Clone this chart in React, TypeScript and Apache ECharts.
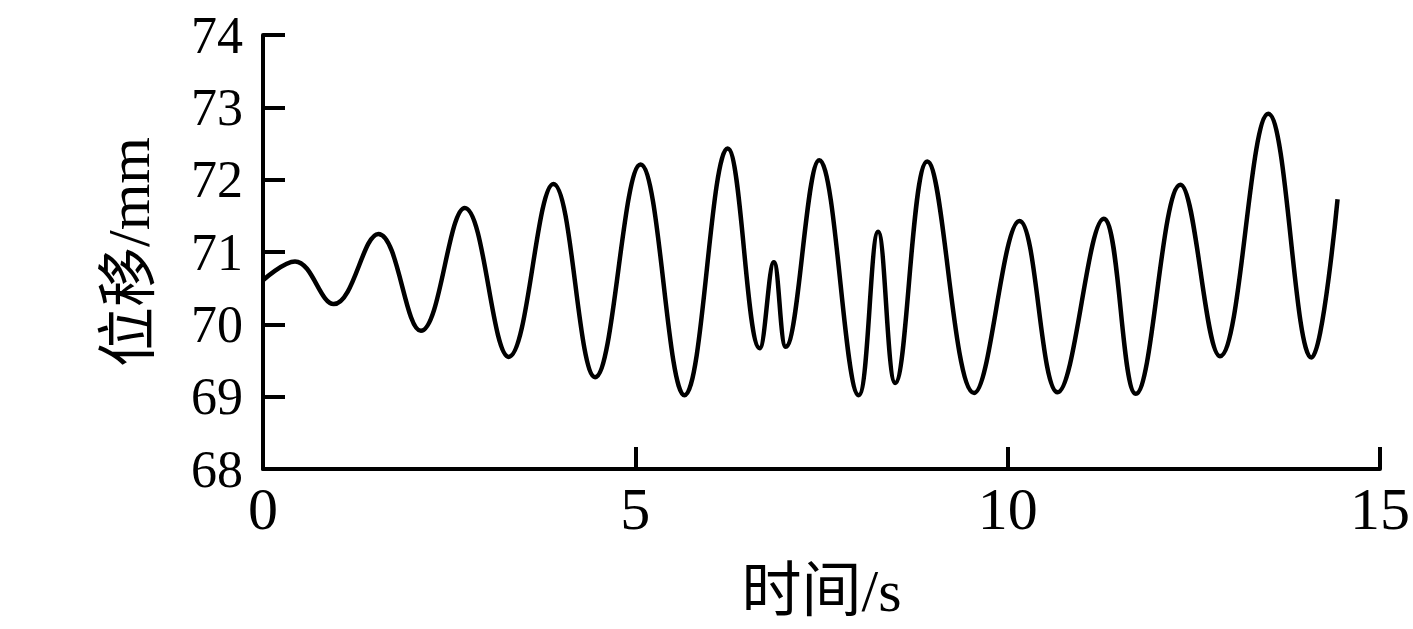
import React, { useEffect, useRef } from "react";
import * as echarts from "echarts";

// peaks and troughs (time in s, displacement in mm)
const timeS = [
  0, 0.43, 0.95, 1.55, 2.12, 2.71, 3.3, 3.9, 4.46, 5.07, 5.66, 6.24, 6.67, 6.86, 7.02, 7.47, 8.0,
  8.26, 8.49, 8.92, 9.55, 10.16, 10.67, 11.29, 11.72, 12.32, 12.85, 13.5, 14.08, 14.43,
];
const displacementMm = [
  70.61, 70.87, 70.28, 71.25, 69.91, 71.61, 69.55, 71.94, 69.27, 72.21, 69.02, 72.43, 69.67, 70.86,
  69.69, 72.27, 69.02, 71.28, 69.19, 72.25, 69.05, 71.43, 69.06, 71.46, 69.04, 71.93, 69.56, 72.91,
  69.54, 71.73,
];
const xTicks = { min: 0, max: 15, interval: 5 };
const yTicks = { min: 68, max: 74, interval: 1 };
const xName = "时间/s";
const yName = "位移/mm";

const FONT = '"Liberation Serif", "Times New Roman", "Noto Sans CJK SC", serif';

export default function App() {
  const ref = useRef<HTMLDivElement>(null);
  useEffect(() => {
    if (!ref.current) return;
    const chart = echarts.init(ref.current, undefined, { renderer: "svg" });
    const points = timeS.map((t, i) => [t, displacementMm[i]]);
    chart.setOption({
      animation: false,
      backgroundColor: "#ffffff",
      grid: { left: 263, right: 32, top: 35, bottom: 160, containLabel: false },
      xAxis: {
        type: "value",
        min: xTicks.min,
        max: xTicks.max,
        interval: xTicks.interval,
        name: xName,
        nameLocation: "middle",
        nameGap: 92,
        nameTextStyle: { fontFamily: FONT, fontSize: 60, color: "#000" },
        axisLine: { show: true, lineStyle: { color: "#000", width: 4 } },
        axisTick: { show: true, inside: true, length: 22, lineStyle: { color: "#000", width: 4 } },
        axisLabel: { margin: 10, fontFamily: FONT, fontSize: 60, color: "#000" },
        splitLine: { show: false },
      },
      yAxis: {
        type: "value",
        min: yTicks.min,
        max: yTicks.max,
        interval: yTicks.interval,
        name: yName,
        nameLocation: "middle",
        nameGap: 104,
        nameTextStyle: { fontFamily: FONT, fontSize: 60, color: "#000" },
        axisLine: { show: true, lineStyle: { color: "#000", width: 4 } },
        axisTick: { show: true, inside: true, length: 22, lineStyle: { color: "#000", width: 4 } },
        axisLabel: { margin: 20, fontFamily: FONT, fontSize: 52, color: "#000" },
        splitLine: { show: false },
      },
      series: [
        {
          type: "line",
          data: points,
          smooth: 0.4,
          symbol: "none",
          lineStyle: { color: "#000", width: 4.5 },
        },
      ],
    });
    return () => chart.dispose();
  }, []);
  return (
    <div
      ref={ref}
      style={{ position: "fixed", left: 0, top: 0, width: 1413, height: 629, background: "#fff" }}
    />
  );
}
